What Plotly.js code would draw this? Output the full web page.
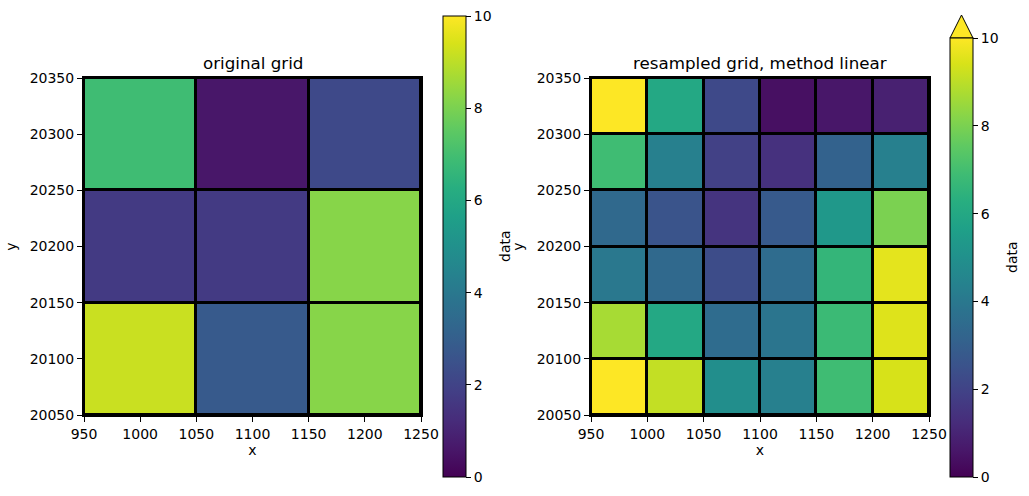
<!DOCTYPE html>
<html><head><meta charset="utf-8">
<script src="https://cdn.plot.ly/plotly-3.0.1.min.js"></script>
<style>html,body{margin:0;padding:0;background:#fff}#chart{width:1029px;height:496px}</style>
</head><body><div id="chart"></div>
<script>
// ----- data -----
const xOrig = [1000, 1100, 1200];
const yOrig = [20100, 20200, 20300];
const zOrig = [
  [9.2, 2.8, 8.2],
  [1.7, 1.7, 8.2],
  [6.9, 0.6, 2.2]
];
const xRes = [975, 1025, 1075, 1125, 1175, 1225];
const yRes = [20075, 20125, 20175, 20225, 20275, 20325];
const zRes = [
  [10.2, 9.1, 4.9, 4.3, 6.9, 9.4],
  [8.7, 6.0, 3.5, 3.9, 6.8, 9.5],
  [4.0, 3.4, 2.3, 3.5, 6.6, 9.6],
  [3.4, 2.6, 1.5, 2.8, 5.3, 8.0],
  [6.9, 4.3, 1.9, 1.4, 3.1, 4.3],
  [10.3, 6.0, 2.2, 0.4, 0.6, 0.9]
];
const xTicks = [950, 1000, 1050, 1100, 1150, 1200, 1250];
const yTicks = [20050, 20100, 20150, 20200, 20250, 20300, 20350];
const cbTicks = [0, 2, 4, 6, 8, 10];

// ----- layout helpers -----
const W = 1029, H = 496;
const px = v => v / W;
const py = v => 1 - v / H;
const FONT = 'DejaVu Sans, sans-serif';

function cb(x0, top, bottom) {
  return {
    x: px(x0), xanchor: 'left', xref: 'paper',
    y: py(top), yanchor: 'top', yref: 'paper',
    len: (bottom - top) / H, lenmode: 'fraction',
    thickness: 23, thicknessmode: 'pixels',
    outlinewidth: 1, outlinecolor: '#000',
    tickvals: cbTicks, ticks: 'outside', ticklen: 5, tickwidth: 1, tickcolor: '#000',
    tickfont: {family: FONT, size: 14, color: '#000'},
    xpad: 0, ypad: 0
  };
}

const traces = [
  {type: 'heatmap', x: xOrig, y: yOrig, z: zOrig, xaxis: 'x', yaxis: 'y',
   colorscale: 'Viridis', zmin: 0, zmax: 10, xgap: 3, ygap: 3,
   colorbar: cb(443, 16, 477)},
  {type: 'heatmap', x: xRes, y: yRes, z: zRes, xaxis: 'x2', yaxis: 'y2',
   colorscale: 'Viridis', zmin: 0, zmax: 10, xgap: 3, ygap: 3,
   colorbar: cb(950, 38, 477)}
];

function axis(domain, range, tv, anchor, title, standoff) {
  return {
    domain: domain, range: range, anchor: anchor,
    tickvals: tv, ticktext: tv.map(String),
    ticks: 'outside', ticklen: 5, tickwidth: 1, tickcolor: '#000',
    tickfont: {family: FONT, size: 14, color: '#000'},
    showgrid: false, zeroline: false,
    showline: true, linecolor: '#000', linewidth: 2, mirror: true,
    title: {text: title, font: {family: FONT, size: 14, color: '#000'}, standoff: standoff},
    automargin: false,
    fixedrange: true
  };
}

const ann = (text, x, y, size, angle) => ({
  text: text, xref: 'paper', yref: 'paper', x: px(x), y: py(y),
  xanchor: 'center', yanchor: 'middle', showarrow: false, textangle: angle || 0,
  font: {family: FONT, size: size, color: '#000'}
});

const layout = {
  width: W, height: H,
  margin: {l: 0, r: 0, t: 0, b: 0},
  paper_bgcolor: '#fff', plot_bgcolor: '#000',
  showlegend: false,
  xaxis: axis([px(84), px(421)], [950, 1250], xTicks, 'y', 'x', 4),
  yaxis: axis([py(415), py(78)], [20050, 20350], yTicks, 'x', 'y', 10),
  xaxis2: axis([px(591), px(929)], [950, 1250], xTicks, 'y2', 'x', 4),
  yaxis2: axis([py(415), py(78)], [20050, 20350], yTicks, 'x2', 'y', 10),
  annotations: [
    ann('original grid', 252.5, 63, 16.7),
    ann('resampled grid, method linear', 760, 63, 16.7),
    ann('data', 505, 246, 14, -90),
    ann('data', 1012, 257, 14, -90)
  ],
  shapes: [
    {type: 'path', xref: 'paper', yref: 'paper',
     path: 'M ' + px(950) + ' ' + py(38) + ' L ' + px(961.5) + ' ' + py(15) + ' L ' + px(973) + ' ' + py(38) + ' Z',
     fillcolor: '#fde725', line: {color: '#000', width: 1}}
  ]
};

Plotly.newPlot('chart', traces, layout, {staticPlot: true, displayModeBar: false});
</script>
</body></html>
